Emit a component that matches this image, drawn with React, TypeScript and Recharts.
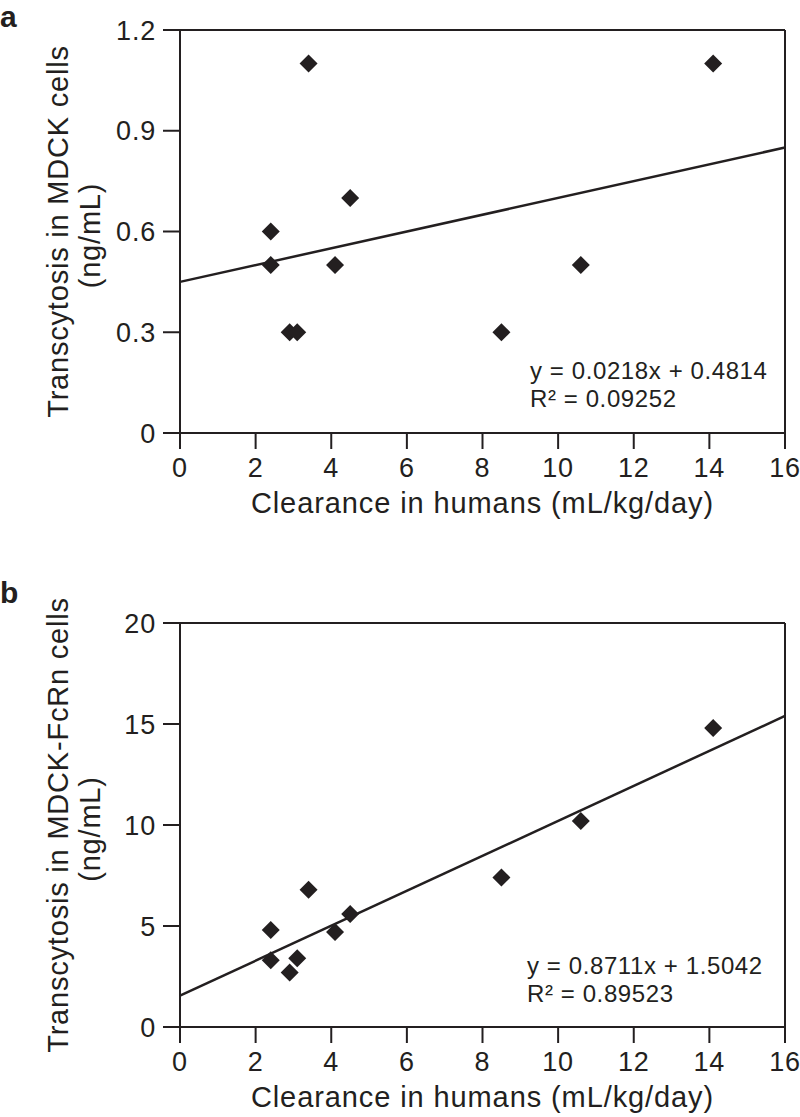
import React from "react";
import {
  ScatterChart,
  Scatter,
  XAxis,
  YAxis,
  ReferenceLine,
  Label,
} from "recharts";

// ---- data ----
const xTicks = [0, 2, 4, 6, 8, 10, 12, 14, 16];
const aYTicks = [0, 0.3, 0.6, 0.9, 1.2];
const bYTicks = [0, 5, 10, 15, 20];
const clearance = [2.4, 2.4, 2.9, 3.1, 3.4, 4.1, 4.5, 8.5, 10.6, 14.1];
const mdck = [0.6, 0.5, 0.3, 0.3, 1.1, 0.5, 0.7, 0.3, 0.5, 1.1];
const fcrn = [4.8, 3.3, 2.7, 3.4, 6.8, 4.7, 5.6, 7.4, 10.2, 14.8];
const trendX = [0, 16];
const trendA = [0.45, 0.85];
const trendB = [1.55, 15.4];
const eqA = ["y = 0.0218x + 0.4814", "R² = 0.09252"];
const eqB = ["y = 0.8711x + 1.5042", "R² = 0.89523"];
const yLabelA = ["Transcytosis in MDCK cells", "(ng/mL)"];
const yLabelB = ["Transcytosis in MDCK-FcRn cells", "(ng/mL)"];
const xLabel = "Clearance in humans (mL/kg/day)";

const INK = "#231f20";
const FONT = "'Liberation Sans', Arial, Helvetica, sans-serif";

const Diamond = (props: any) => {
  const { cx, cy } = props;
  const r = 9;
  return (
    <polygon
      points={`${cx},${cy - r} ${cx + r},${cy} ${cx},${cy + r} ${cx - r},${cy}`}
      fill={INK}
    />
  );
};

const NoShape = () => <g />;

type PanelProps = {
  top: number;
  height: number;
  marginTop: number;
  letter: string;
  letterY: number;
  ys: number[];
  yTicks: number[];
  trend: number[];
  yLabel: string[];
  eq: string[];
  eqX: number;
  eqY: number;
};

const Panel = (p: PanelProps) => {
  const pts = clearance.map((x, i) => ({ x, y: p.ys[i] }));
  const line = trendX.map((x, i) => ({ x, y: p.trend[i] }));
  const yMax = p.yTicks[p.yTicks.length - 1];
  const xMax = xTicks[xTicks.length - 1];
  return (
    <div style={{ position: "absolute", left: 0, top: p.top, width: 800, height: p.height }}>
      <ScatterChart
        width={800}
        height={p.height}
        margin={{ top: p.marginTop, right: 15, bottom: 0, left: 0 }}
        style={{ fontFamily: FONT }}
      >
        <XAxis
          type="number"
          dataKey="x"
          domain={[0, xMax]}
          ticks={xTicks}
          interval={0}
          height={87}
          tickSize={16}
          tickMargin={9}
          stroke={INK}
          strokeWidth={2}
          tick={{ fill: INK, fontSize: 27, fontFamily: FONT, letterSpacing: 0.8 }}
        >
          <Label
            content={(lp: any) => {
              const vb = lp.viewBox;
              return (
                <text
                  x={vb.x + vb.width / 2}
                  y={vb.y + 80}
                  textAnchor="middle"
                  fill={INK}
                  fontSize={29}
                  letterSpacing={0.9}
                  fontFamily={FONT}
                >
                  {xLabel}
                </text>
              );
            }}
          />
        </XAxis>
        <YAxis
          type="number"
          dataKey="y"
          domain={[0, yMax]}
          ticks={p.yTicks}
          interval={0}
          width={180}
          tickSize={17}
          tickMargin={7}
          stroke={INK}
          strokeWidth={2}
          tick={{ fill: INK, fontSize: 27, fontFamily: FONT, letterSpacing: 0.8 }}
        >
          <Label
            content={(lp: any) => {
              const vb = lp.viewBox;
              const cy = vb.y + vb.height / 2;
              return (
                <g>
                  <text
                    x={68}
                    y={cy}
                    transform={`rotate(-90, 68, ${cy})`}
                    textAnchor="middle"
                    fill={INK}
                    fontSize={29}
                    letterSpacing={0.8}
                    fontFamily={FONT}
                  >
                    {p.yLabel[0]}
                  </text>
                  <text
                    x={100}
                    y={cy + 4}
                    transform={`rotate(-90, 100, ${cy + 4})`}
                    textAnchor="middle"
                    fill={INK}
                    fontSize={29}
                    letterSpacing={0.8}
                    fontFamily={FONT}
                  >
                    {p.yLabel[1]}
                  </text>
                </g>
              );
            }}
          />
        </YAxis>
        <ReferenceLine y={yMax} stroke={INK} strokeWidth={2} />
        <ReferenceLine x={xMax} stroke={INK} strokeWidth={2} />
        <Scatter
          data={line}
          line={{ stroke: INK, strokeWidth: 2.5 }}
          shape={NoShape}
          isAnimationActive={false}
        />
        <Scatter data={pts} shape={Diamond} isAnimationActive={false} />
      </ScatterChart>
      <svg
        width={800}
        height={p.height}
        style={{ position: "absolute", left: 0, top: 0, pointerEvents: "none" }}
      >
        <text x={0} y={p.letterY} fontSize={30} fontWeight="bold" fill={INK} fontFamily={FONT}>
          {p.letter}
        </text>
        {p.eq.map((t, i) => (
          <text
            key={i}
            x={p.eqX}
            y={p.eqY + i * 27.5}
            fontSize={24}
            letterSpacing={0.6}
            fill={INK}
            fontFamily={FONT}
          >
            {t}
          </text>
        ))}
      </svg>
    </div>
  );
}

export default function App() {
  return (
    <div
      style={{
        position: "absolute",
        left: 0,
        top: 0,
        width: 800,
        height: 1117,
        background: "#fff",
        fontFamily: FONT,
      }}
    >
      <Panel
        top={0}
        height={520}
        marginTop={30}
        letter="a"
        letterY={27}
        ys={mdck}
        yTicks={aYTicks}
        trend={trendA}
        yLabel={yLabelA}
        eq={eqA}
        eqX={530}
        eqY={379}
      />
      <Panel
        top={563}
        height={551}
        marginTop={60}
        letter="b"
        letterY={40}
        ys={fcrn}
        yTicks={bYTicks}
        trend={trendB}
        yLabel={yLabelB}
        eq={eqB}
        eqX={527}
        eqY={411}
      />
    </div>
  );
}
